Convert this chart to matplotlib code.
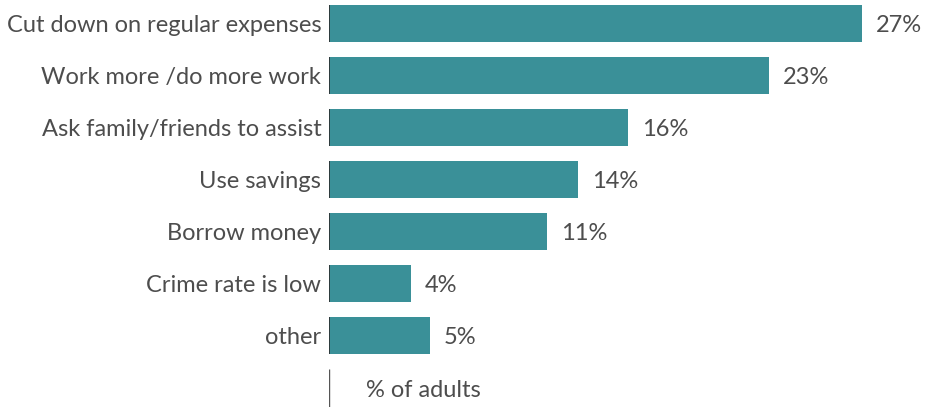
import matplotlib.pyplot as plt

# survey answers, top to bottom
categories = ["Cut down on regular expenses", "Work more /do more work",
              "Ask family/friends to assist", "Use savings", "Borrow money",
              "Crime rate is low", "other"]
bar_lengths = [27.0, 22.3, 15.15, 12.6, 11.05, 4.15, 5.1]
value_labels = ["27%", "23%", "16%", "14%", "11%", "4%", "5%"]
axis_note = "% of adults"

plt.rcParams['font.family'] = ['Lato', 'DejaVu Sans']
text_color = '#4d4d4d'
bar_color = '#3a9098'

fig = plt.figure(figsize=(9.28, 4.07), dpi=100)
ax = fig.add_axes([329 / 928, 0, 1 - 329 / 928, 1])

px = 19.74  # pixels per percent
ax.set_xlim(0, (928 - 329) / px)
row_h = 52.0
ax.set_ylim((407 - 23.5) / row_h, -23.5 / row_h)

rows = list(range(len(categories)))
half = 37 / row_h / 2
ax.barh(rows, bar_lengths, height=2 * half, color=bar_color, linewidth=0)
ax.vlines([0] * len(rows), [r - half for r in rows], [r + half for r in rows],
          color='#2b2b2b', linewidth=1.2)

fs = 17
for r, cat, v, lab in zip(rows, categories, bar_lengths, value_labels):
    ax.annotate(cat, (0, r + 0.03), xytext=(-5.5, 0), textcoords='offset points',
                ha='right', va='center', fontsize=fs, color=text_color)
    ax.annotate(lab, (v, r + 0.03), xytext=(10, 0), textcoords='offset points',
                ha='left', va='center', fontsize=fs, color=text_color)

note_row = len(categories)
ax.vlines(0, note_row - 0.35, note_row + 0.5, color='#555555', linewidth=1)
ax.annotate(axis_note, (0, note_row + 0.05), xytext=(27, 0), textcoords='offset points',
            ha='left', va='center', fontsize=fs, color=text_color)

ax.axis('off')
fig.savefig('out.png', dpi=100)
